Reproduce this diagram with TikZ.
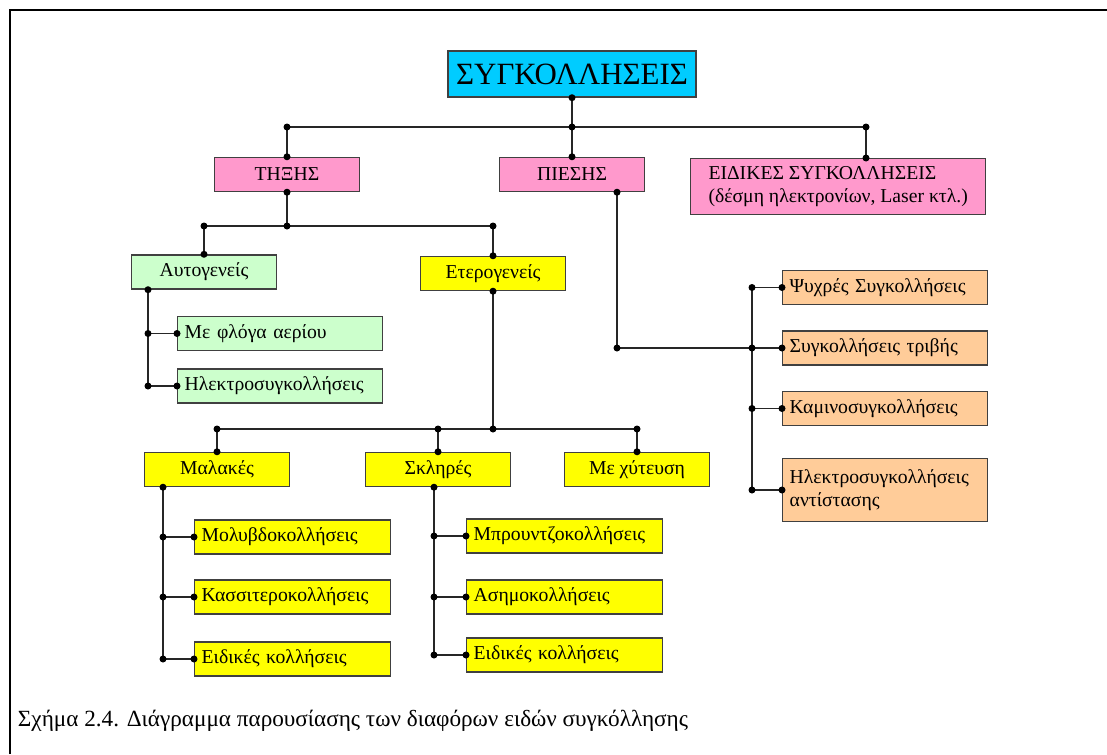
\documentclass[tikz,border=0pt]{standalone}
\usepackage{fontspec}
\setmainfont{Liberation Serif}
\usetikzlibrary{positioning,calc}
\definecolor{titlecyan}{RGB}{0,204,255}
\definecolor{boxpink}{RGB}{255,153,204}
\definecolor{boxgreen}{RGB}{204,255,204}
\definecolor{boxyellow}{RGB}{255,255,0}
\definecolor{boxpeach}{RGB}{255,204,153}

\begin{document}
\begin{tikzpicture}[x=0.25mm, y=-0.25mm,
  box/.style={draw=black!75, line width=0.35mm, minimum height=8.5mm, inner xsep=1mm, inner ysep=0.5mm, font=\fontsize{14}{16}\selectfont},
  head/.style={box, minimum width=36.25mm, align=center},
  leaf/.style={box, anchor=west, inner xsep=1.75mm, text width=#1, align=left},
  leaf/.default=47.75mm,
  link/.style={draw=black!85, line width=0.4mm}
]
  \useasboundingbox (0,0) rectangle (1107,754);
  \draw[line width=0.5mm] (10,754) -- (10,10) -- (1107,10);

  % top level
  \node[box, fill=titlecyan, minimum width=62mm, minimum height=11.5mm, font=\fontsize{22}{24}\selectfont] (root) at (572,74) {ΣΥΓΚΟΛΛΗΣΕΙΣ};
  \node[head, fill=boxpink] (thx) at (287,174.5) {ΤΗΞΗΣ};
  \node[head, fill=boxpink] (pie) at (572,174.5) {ΠΙΕΣΗΣ};
  \node[box, fill=boxpink, anchor=north west, minimum width=73.75mm, minimum height=14mm, align=left] (eid) at (690,158) {ΕΙΔΙΚΕΣ ΣΥΓΚΟΛΛΗΣΕΙΣ\\(δέσμη ηλεκτρονίων, Laser κτλ.)};

  % tixis
  \node[head, fill=boxgreen] (aut) at (204,272) {Αυτογενείς};
  \node[head, fill=boxyellow] (ete) at (493,273.5) {Ετερογενείς};
  \node[leaf, fill=boxgreen] (mfl) at (177,333.5) {Με φλόγα αερίου};
  \node[leaf, fill=boxgreen] (hla) at (177,386) {Ηλεκτροσυγκολλήσεις};

  \node[head, fill=boxyellow] (mal) at (217,469.5) {Μαλακές};
  \node[head, fill=boxyellow] (skl) at (438,469.5) {Σκληρές};
  \node[head, fill=boxyellow] (mxy) at (637,469.5) {Με χύτευση};

  \node[leaf=45.5mm, fill=boxyellow] (mol) at (194,537) {Μολυβδοκολλήσεις};
  \node[leaf=45.5mm, fill=boxyellow] (kas) at (194,597) {Κασσιτεροκολλήσεις};
  \node[leaf=45.5mm, fill=boxyellow] (eim) at (194,659) {Ειδικές κολλήσεις};
  \node[leaf=45.5mm, fill=boxyellow] (mpr) at (466,536) {Μπρουντζοκολλήσεις};
  \node[leaf=45.5mm, fill=boxyellow] (asi) at (466,597) {Ασημοκολλήσεις};
  \node[leaf=45.5mm, fill=boxyellow] (eis) at (466,655) {Ειδικές κολλήσεις};

  % piesis
  \node[leaf, fill=boxpeach] (psy) at (782,287.5) {Ψυχρές Συγκολλήσεις};
  \node[leaf, fill=boxpeach] (tri) at (782,348) {Συγκολλήσεις τριβής};
  \node[leaf, fill=boxpeach] (kam) at (782,408.5) {Καμινοσυγκολλήσεις};
  \node[leaf, fill=boxpeach, minimum height=15.75mm] (ant) at (782,490) {Ηλεκτροσυγκολλήσεις\\αντίστασης};

  \node[anchor=west, font=\fontsize{16.5}{18}\selectfont] (cap) at (13,721) {Σχήμα 2.4. Διάγραμμα παρουσίασης των διαφόρων ειδών συγκόλλησης};

  % connectors
  \coordinate (top) at (572,127);
  \coordinate (eidtop) at (866,158);
  \draw[link] (root.south) -- (top);
  \draw[link] (thx.north) |- (top) -| (eidtop);
  \draw[link] (top) -- (pie.north);

  \coordinate (tj) at (287,226);
  \draw[link] (thx.south) -- (tj);
  \draw[link] (aut.north) |- (tj) -| (ete.north);

  \coordinate (ta) at (aut.south -| 148,0);
  \draw[link] (ta) -- (ta |- hla.west);
  \foreach \n in {mfl,hla} \draw[link] (ta |- \n.west) -- (\n.west);

  \coordinate (ej) at (ete.south |- 0,429);
  \draw[link] (ete.south) -- (ej);
  \draw[link] (mal.north) |- (ej) -| (mxy.north);
  \draw[link] (skl.north) -- (skl.north |- ej);

  \coordinate (tm) at (mal.south -| 163,0);
  \draw[link] (tm) -- (tm |- eim.west);
  \foreach \n in {mol,kas,eim} \draw[link] (tm |- \n.west) -- (\n.west);

  \coordinate (tk) at (skl.south -| 434,0);
  \draw[link] (tk) -- (tk |- eis.west);
  \foreach \n in {mpr,asi,eis} \draw[link] (tk |- \n.west) -- (\n.west);

  \coordinate (pj) at (pie.south -| 617,0);
  \coordinate (tp) at (752,0);
  \draw[link] (pj) |- (tri.west);
  \draw[link] (psy.west -| tp) -- (ant.west -| tp);
  \foreach \n in {psy,kam,ant} \draw[link] (\n.west -| tp) -- (\n.west);

  % junction dots
  \foreach \p in {root.south, top, thx.north, thx.north |- top, pie.north, eidtop |- top, eidtop,
      thx.south, tj, aut.north |- tj, aut.north, ete.north |- tj, ete.north,
      ta, ta |- mfl.west, mfl.west, ta |- hla.west, hla.west,
      ete.south, ej, mal.north |- ej, mal.north, skl.north |- ej, skl.north, mxy.north |- ej, mxy.north,
      tm, tm |- mol.west, mol.west, tm |- kas.west, kas.west, tm |- eim.west, eim.west,
      tk, tk |- mpr.west, mpr.west, tk |- asi.west, asi.west, tk |- eis.west, eis.west,
      pj, pj |- tri.west, psy.west -| tp, psy.west, tri.west -| tp, tri.west, kam.west -| tp, kam.west, ant.west -| tp, ant.west}
    \fill (\p) circle (3.5);
\end{tikzpicture}
\end{document}
